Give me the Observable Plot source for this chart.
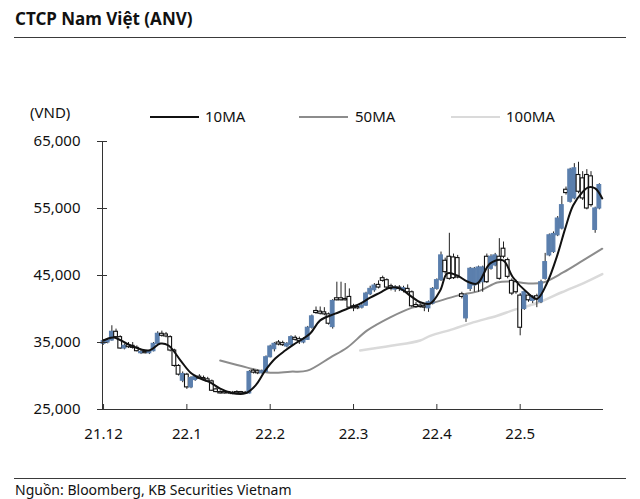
<!DOCTYPE html>
<html><head><meta charset="utf-8">
<script src="https://cdn.jsdelivr.net/npm/d3@7"></script>
<script src="https://cdn.jsdelivr.net/npm/@observablehq/plot@0.6"></script>
<style>
body{margin:0;width:640px;height:499px;position:relative;background:#fff;font-family:"Noto Sans",sans-serif;color:#111;overflow:hidden}
#title{position:absolute;left:15px;top:7px;font-size:17px;font-weight:bold;line-height:24px;color:#111}
.hr{position:absolute;left:14px;width:612px;height:0;border-top:1.5px solid #3a3a3a}
.lg{position:absolute;font-size:15px;line-height:20px;color:#111}
.sw{position:absolute;height:0}
#chart{position:absolute;left:0;top:125px}
#cap{position:absolute;left:15px;top:480px;font-size:14px;line-height:20px;color:#111}
</style></head>
<body>
<div id="title">CTCP Nam Việt (ANV)</div>
<div class="hr" style="top:37px"></div>
<div class="lg" style="left:30px;top:102px">(VND)</div>
<div id="legend"></div>
<div id="chart"></div>
<div class="hr" style="top:478px"></div>
<div id="cap">Nguồn: Bloomberg, KB Securities Vietnam</div>
<script>
// Daily OHLC (trading-day index 0..119, Dec 2021 - May 2022)
const open  = [34800,35000,35300,36600,35800,34100,34600,34500,34200,33400,33600,33400,33700,34800,36300,36200,35800,33800,31500,29300,
               30200,28300,29400,29900,29700,29500,29200,28000,27600,27600,27600,27500,27600,27600,27500,27400,30800,30700,30400,30600,
               32800,34000,35000,34900,34400,34600,35700,35500,35000,35400,37200,39700,39600,39500,39200,37300,41600,41600,41500,41800,
               40400,40300,40200,40500,42200,42800,43600,44600,44300,43400,42900,43200,42700,43000,42500,40600,40500,40400,40100,40800,
               43000,44300,47200,47800,47700,47600,42200,38600,43000,43500,43800,44000,47800,46000,46500,47800,49000,47300,44200,44000,
               42000,40000,42000,41200,41900,41000,44500,48000,48500,51000,52000,57800,56000,56500,60000,59500,60000,59800,51800,55000];
const high  = [35400,35500,37500,37000,36000,34800,35000,35000,34500,33800,33800,33800,35000,36600,36700,36500,36000,34000,31700,30600,
               30400,29900,30100,30200,30000,29800,29400,28200,27800,27800,27700,27700,27800,27700,27700,30800,31000,30900,30900,33000,
               34600,35000,35300,35200,35000,36000,36000,35800,35700,37400,39100,40300,40300,40200,39400,41400,44000,44000,43800,43000,
               40700,40600,40800,42500,43400,43800,44200,44900,44500,43700,43500,43500,43400,43600,42700,41000,40800,40700,41200,43200,
               44500,48500,47600,51300,48200,48000,42500,42200,46200,46200,46400,46400,48200,48100,48300,50500,50000,47600,44500,44300,
               42300,42800,42300,42000,42200,44300,48300,51200,51500,53800,56800,58200,61000,61700,61900,60500,60800,60500,55200,58700];
const low   = [34600,34800,35200,35600,34000,33900,34100,34000,33600,33200,33300,33200,33600,34700,35800,35700,33600,31300,30000,29000,
               28000,28100,29200,29500,29300,29100,27700,27500,27300,27300,27300,27200,27300,27300,27300,27300,30300,30200,30300,30500,
               32700,33600,34500,34400,34200,34500,35200,34700,34800,35300,37000,39200,39100,39000,37600,37000,41200,41200,41200,40000,
               39600,39900,40000,40400,42000,42500,43000,44000,43000,42700,42500,42600,42400,42200,40200,40100,40100,39600,39500,40600,
               42800,44100,45200,44300,44400,44500,41500,38000,42600,42500,42500,42500,43800,45800,46300,44300,47500,44500,42000,42200,
               36000,39800,41000,40800,40200,40800,44300,47800,48300,50800,51800,57000,55800,56300,57200,56200,54800,55200,51300,54800];
const close = [35200,35300,36600,35800,34100,34500,34300,34200,33700,33600,33400,33600,34800,36300,36000,35900,33800,31500,30200,30300,
               28300,29700,29900,29600,29500,29200,27800,27600,27400,27400,27400,27300,27400,27400,27400,30600,30500,30400,30700,32800,
               34400,34800,34700,34600,34800,35800,35400,35200,35500,37200,38900,39400,39300,39200,37800,41200,41300,41300,41300,40200,
               40100,40100,40500,42300,43000,43500,43200,44200,43200,43000,43200,43000,43100,42500,40400,40300,40300,40200,41000,43000,
               44300,48000,45500,44500,44600,44700,41800,42000,46000,46000,46200,46200,44000,47800,48000,44500,47800,44800,42300,42500,
               37200,42500,41300,41800,41400,44000,47000,51000,51200,53500,55500,57300,60800,61000,57500,56500,55000,55500,55000,58500];

// Moving averages (index, value)
const ma10Idx = [0,2.4,6.5,10.8,13.7,15.6,18.5,20.9,23.3,25.7,28,30.5,34,36.5,38.8,41.2,43.6,46,49.6,52,55.6,59.2,61.6,64,66.4,68.8,71.2,73.6,76,78.4,80.8,82.5,84.9,87.3,89.7,92.8,95.9,98.3,101.7,104.1,106.5,108.9,110.8,112.7,114.9,116.3,118,119.7];
const ma10Val = [35300,35750,34550,33800,34850,34550,32300,30500,29600,29000,28100,27500,27400,28600,30800,32600,33800,34850,36350,38300,39300,40200,40800,41700,42450,43200,43050,42000,41000,40800,42750,45300,45000,44100,43800,46800,47250,44700,42450,41550,43950,48000,52000,55450,57400,58150,58000,56500];
const ma50Idx = [28,34.5,40,44.8,48.9,54.4,58.5,63.3,68.8,73.6,78.4,84.9,90.4,94.5,97.6,102.4,105.5,110.3,115.1,119.7];
const ma50Val = [32300,31250,30500,30650,30800,32750,34250,36800,38750,40100,40800,42000,42750,43950,44100,43800,43950,45450,47250,49000];
const ma100Idx = [61.6,69,76,78.4,83.9,88.7,94.5,98.7,104.1,110,116,119.7];
const ma100Val = [33800,34500,35300,36000,37000,38000,39000,39900,40900,42500,44100,45200];

const yTicks = [25000,35000,45000,55000,65000];
const xTickIdx = [0,20,40,60,80,100];
const xLabels = ["21.12","22.1","22.2","22.3","22.4","22.5"];

const seriesNames = ["10MA","50MA","100MA"];
const seriesColors = ["#111111","#8c8c8c","#dadada"];

const candles = open.map((o,i)=>({i, open:o, high:high[i], low:low[i], close:close[i]}));
const mk = (idx, val) => idx.map((x,k)=>({i:x, v:val[k]}));
const blue = "#5b7fad";

// legend
const lg = document.getElementById("legend");
const lgPos = [[150,205],[299,355],[451,506]];
seriesNames.forEach((n,k)=>{
  const s=document.createElement("div"); s.className="sw";
  s.style.cssText=`left:${lgPos[k][0]}px;top:116px;width:49px;border-top:2.5px solid ${seriesColors[k]}`;
  lg.appendChild(s);
  const t=document.createElement("div"); t.className="lg"; t.textContent=n;
  t.style.left=lgPos[k][1]+"px"; t.style.top="106px"; lg.appendChild(t);
});

const fmt = d3.format(",");
const chart = Plot.plot({
  width:640, height:330,
  marginTop:16, marginBottom:46, marginLeft:102, marginRight:37,
  style:{fontFamily:"Noto Sans, sans-serif", fontSize:"15px", color:"#111", background:"#fff"},
  x:{domain:[-0.25,120], axis:null},
  y:{domain:[25000,65000], axis:null},
  marks:[
    Plot.line(mk(ma100Idx,ma100Val),{x:"i",y:"v",stroke:seriesColors[2],strokeWidth:2.5,curve:"catmull-rom"}),
    Plot.line(mk(ma50Idx,ma50Val),{x:"i",y:"v",stroke:seriesColors[1],strokeWidth:2,curve:"catmull-rom"}),
    Plot.ruleX(candles,{x:"i",y1:"low",y2:"high",stroke:"#222",strokeWidth:1}),
    Plot.rect(candles,{x1:d=>d.i-0.45,x2:d=>d.i+0.45,y1:"open",y2:"close",
      fill:d=>d.close>=d.open?blue:"#fff", stroke:d=>d.close>=d.open?blue:"#111", strokeWidth:1.1}),
    Plot.line(mk(ma10Idx,ma10Val),{x:"i",y:"v",stroke:seriesColors[0],strokeWidth:2,curve:"catmull-rom"}),
    Plot.ruleY([25000],{stroke:"#333",strokeWidth:1}),
    Plot.axisY({ticks:yTicks, tickSize:10, dx:5, tickFormat:()=>"", stroke:"#333", label:null}),
    Plot.axisY({ticks:yTicks, tickSize:0, tickPadding:22, tickFormat:fmt, fontSize:15, fill:"#111", label:null}),
    Plot.axisX({ticks:xTickIdx, tickSize:5, dy:-5, tickFormat:()=>"", stroke:"#333", label:null}),
    Plot.axisX({ticks:xTickIdx, tickSize:0, tickPadding:19, tickFormat:d=>xLabels[xTickIdx.indexOf(d)], fontSize:15, fill:"#111", label:null}),
    Plot.frame({anchor:"left", stroke:"#333"})
  ]
});
document.getElementById("chart").appendChild(chart);
</script>
</body></html>
